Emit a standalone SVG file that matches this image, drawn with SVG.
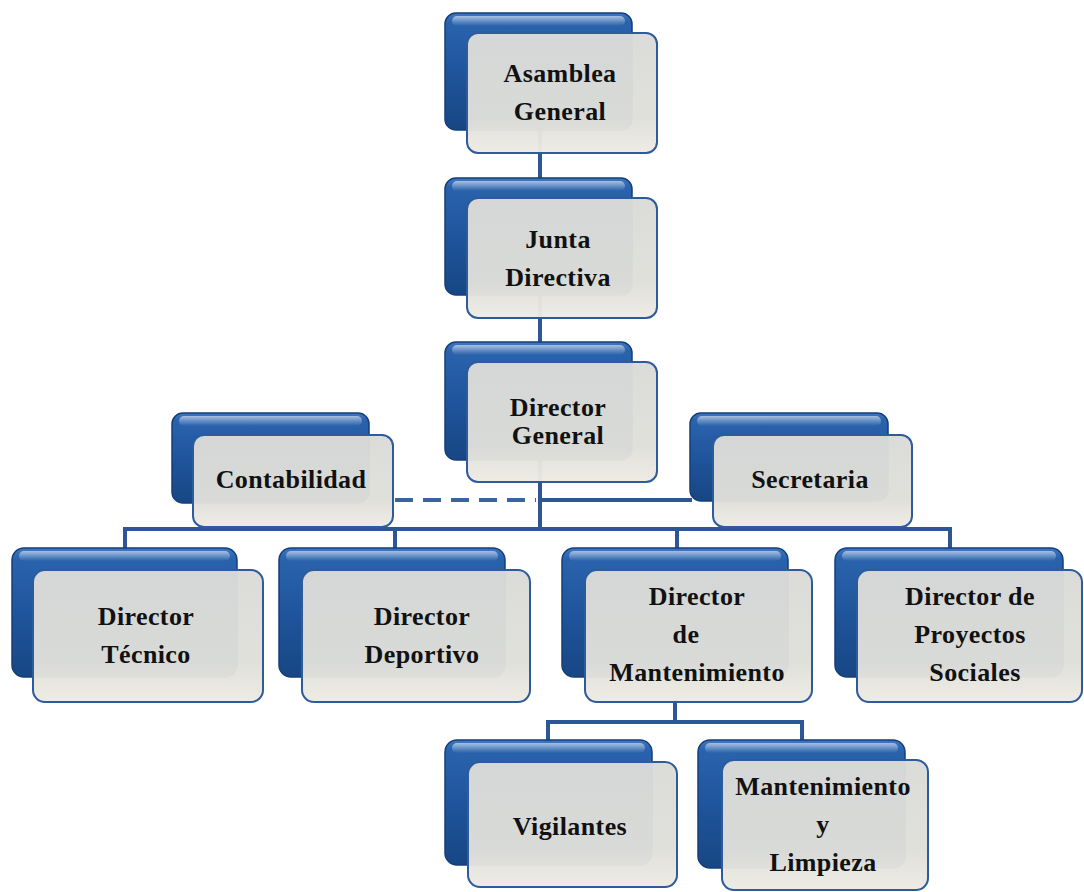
<svg xmlns="http://www.w3.org/2000/svg" width="1084" height="892" viewBox="0 0 1084 892">
<defs>
<linearGradient id="gBack" x1="0" y1="0" x2="0" y2="1">
<stop offset="0" stop-color="#3f78c2"/>
<stop offset="0.08" stop-color="#2a63ad"/>
<stop offset="0.5" stop-color="#1f559c"/>
<stop offset="1" stop-color="#174684"/>
</linearGradient>
<linearGradient id="gFront" x1="0" y1="0" x2="0" y2="1">
<stop offset="0" stop-color="#dadbd8"/>
<stop offset="0.7" stop-color="#dfdfda"/>
<stop offset="1" stop-color="#edebe3"/>
</linearGradient>
<linearGradient id="gShine" x1="0" y1="0" x2="0" y2="1">
<stop offset="0" stop-color="#ffffff" stop-opacity="0.55"/>
<stop offset="1" stop-color="#ffffff" stop-opacity="0"/>
</linearGradient>
</defs>
<style>
.back{fill:url(#gBack);stroke:#153f78;stroke-width:1.5}
.shine{fill:url(#gShine)}
.front{fill:url(#gFront);fill-opacity:0.97;stroke:#2d5b9c;stroke-width:2}
.t{font-family:"Liberation Serif","Times New Roman",serif;font-weight:bold;font-size:26px;fill:#111;text-anchor:middle;letter-spacing:0.4px}
.ln{stroke:#2c5696;stroke-width:4;fill:none}
.dash{stroke:#3a64a0;stroke-width:4;fill:none;stroke-dasharray:18 10}
</style>
<rect width="1084" height="892" fill="#ffffff"/>
<g id="connectors">
<line class="ln" x1="540" y1="130" x2="540" y2="529"/>
<line class="ln" x1="123" y1="529" x2="952" y2="529"/>
<line class="ln" x1="125" y1="529" x2="125" y2="550"/>
<line class="ln" x1="395" y1="529" x2="395" y2="550"/>
<line class="ln" x1="677" y1="529" x2="677" y2="550"/>
<line class="ln" x1="950" y1="529" x2="950" y2="550"/>
<line class="dash" x1="395" y1="500" x2="536" y2="500"/>
<line class="ln" x1="540" y1="500" x2="692" y2="500"/>
<line class="ln" x1="675" y1="700" x2="675" y2="722"/>
<line class="ln" x1="546" y1="722" x2="804" y2="722"/>
<line class="ln" x1="548" y1="722" x2="548" y2="742"/>
<line class="ln" x1="802" y1="722" x2="802" y2="742"/>
</g>
<g id="asamblea">
<rect class="back" x="445" y="13" width="187" height="117" rx="11"/>
<rect class="shine" x="452" y="16" width="173" height="10" rx="5"/>
<rect class="front" x="467" y="33" width="190" height="120" rx="11"/>
<text class="t" x="560" y="82">Asamblea</text>
<text class="t" x="560" y="120">General</text>
</g>
<g id="junta">
<rect class="back" x="445" y="178" width="187" height="117" rx="11"/>
<rect class="shine" x="452" y="181" width="173" height="10" rx="5"/>
<rect class="front" x="467" y="198" width="190" height="120" rx="11"/>
<text class="t" x="558" y="248">Junta</text>
<text class="t" x="558" y="286">Directiva</text>
</g>
<g id="director-general">
<rect class="back" x="445" y="342" width="187" height="118" rx="11"/>
<rect class="shine" x="452" y="345" width="173" height="10" rx="5"/>
<rect class="front" x="467" y="362" width="190" height="120" rx="11"/>
<text class="t" x="558" y="416">Director</text>
<text class="t" x="558" y="444">General</text>
</g>
<g id="contabilidad">
<rect class="back" x="172" y="413" width="197" height="90" rx="11"/>
<rect class="shine" x="179" y="416" width="183" height="10" rx="5"/>
<rect class="front" x="193" y="435" width="200" height="92" rx="11"/>
<text class="t" x="291" y="488">Contabilidad</text>
</g>
<g id="secretaria">
<rect class="back" x="690" y="413" width="198" height="88" rx="11"/>
<rect class="shine" x="697" y="416" width="184" height="10" rx="5"/>
<rect class="front" x="713" y="435" width="199" height="92" rx="11"/>
<text class="t" x="810" y="488">Secretaria</text>
</g>
<g id="director-tecnico">
<rect class="back" x="12" y="548" width="225" height="129" rx="12"/>
<rect class="shine" x="19" y="551" width="211" height="10" rx="5"/>
<rect class="front" x="33" y="570" width="230" height="132" rx="12"/>
<text class="t" x="146" y="625">Director</text>
<text class="t" x="146" y="663">Técnico</text>
</g>
<g id="director-deportivo">
<rect class="back" x="279" y="548" width="226" height="129" rx="12"/>
<rect class="shine" x="286" y="551" width="212" height="10" rx="5"/>
<rect class="front" x="302" y="570" width="228" height="132" rx="12"/>
<text class="t" x="422" y="625">Director</text>
<text class="t" x="422" y="663">Deportivo</text>
</g>
<g id="director-mantenimiento">
<rect class="back" x="562" y="548" width="226" height="129" rx="12"/>
<rect class="shine" x="569" y="551" width="212" height="10" rx="5"/>
<rect class="front" x="585" y="570" width="227" height="132" rx="12"/>
<text class="t" x="697" y="605">Director</text>
<text class="t" x="686" y="643">de</text>
<text class="t" x="697" y="681">Mantenimiento</text>
</g>
<g id="director-proyectos">
<rect class="back" x="835" y="548" width="228" height="129" rx="12"/>
<rect class="shine" x="842" y="551" width="214" height="10" rx="5"/>
<rect class="front" x="857" y="570" width="225" height="132" rx="12"/>
<text class="t" x="970" y="605">Director de</text>
<text class="t" x="970" y="643">Proyectos</text>
<text class="t" x="975" y="681">Sociales</text>
</g>
<g id="vigilantes">
<rect class="back" x="445" y="740" width="207" height="125" rx="12"/>
<rect class="shine" x="452" y="743" width="193" height="10" rx="5"/>
<rect class="front" x="468" y="762" width="209" height="125" rx="12"/>
<text class="t" x="570" y="835">Vigilantes</text>
</g>
<g id="mantenimiento-limpieza">
<rect class="back" x="698" y="740" width="207" height="128" rx="12"/>
<rect class="shine" x="705" y="743" width="193" height="10" rx="5"/>
<rect class="front" x="722" y="760" width="206" height="130" rx="12"/>
<text class="t" x="823" y="795">Mantenimiento</text>
<text class="t" x="823" y="833">y</text>
<text class="t" x="823" y="871">Limpieza</text>
</g>
</svg>
